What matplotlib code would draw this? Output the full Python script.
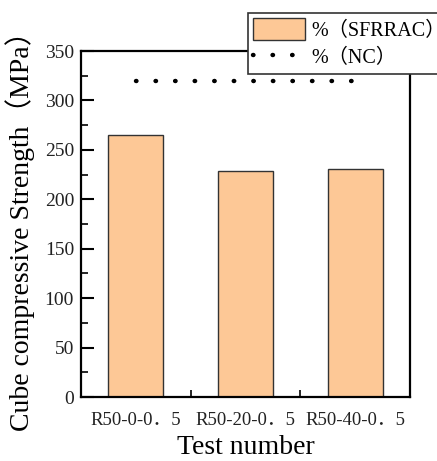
import matplotlib
matplotlib.use('Agg')
import matplotlib.pyplot as plt
from matplotlib.ticker import MultipleLocator, FixedLocator

fam = ['Liberation Serif', 'Noto Sans CJK SC', 'DejaVu Sans']
plt.rcParams['font.family'] = fam

tests = ['R50-0-0．5', 'R50-20-0．5', 'R50-40-0．5']
sfrrac = [265, 229, 230.5]
nc = [320, 320, 320]

fig = plt.figure(figsize=(4.37, 4.61), dpi=100)
ax = fig.add_axes([81/437, 1-397/461, (410-81)/437, (397-51)/461])

pos = [1, 2, 3]
b = ax.bar(pos, sfrrac, width=0.5, color='#FDC896', edgecolor='#333333', linewidth=1.0,
           label='%（SFRRAC）', zorder=2)
l, = ax.plot(pos, nc, linestyle=(0, (0.1, 4.3)), dash_capstyle='round', color='black',
             linewidth=3.2, label='%（NC）', zorder=3)

ax.set_xlim(0.5, 3.5)
ax.set_ylim(0, 350)
ax.set_xticks(pos)
ax.set_xticklabels(tests, fontsize=13.5)
ax.xaxis.set_minor_locator(FixedLocator([1.5, 2.5]))
ax.yaxis.set_major_locator(MultipleLocator(50))
ax.yaxis.set_minor_locator(MultipleLocator(25))
ax.tick_params(which='major', direction='in', length=9, width=1.5, labelsize=14, pad=5)
ax.tick_params(which='minor', direction='in', length=5, width=1.2)
ax.tick_params(axis='y', labelcolor='#222222')
ax.tick_params(axis='x', labelcolor='#222222', labelsize=13.5, pad=11)
for s in ax.spines.values():
    s.set_linewidth(1.6)

ax.set_xlabel('Test number', fontsize=20, labelpad=4)
ax.set_ylabel('Cube compressive Strength（MPa）', fontsize=20, labelpad=7)

leg = fig.legend([b, l], ['%（SFRRAC）', '%（NC）'], loc='upper left',
                 bbox_to_anchor=(248/437, 1-13/461), fontsize=14.5,
                 frameon=True, fancybox=False, edgecolor='#333333', framealpha=1,
                 handlelength=2.6, handleheight=1.3, borderpad=0.25, labelspacing=0.25,
                 handletextpad=0.3, borderaxespad=0)
leg.get_frame().set_linewidth(1.2)

fig.savefig('out.png', dpi=100)
